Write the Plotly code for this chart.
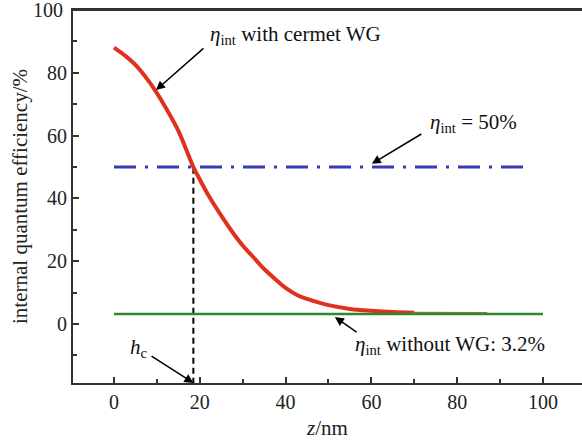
import plotly.graph_objects as go

# Data
z_cermet = [0, 3, 5, 8, 10, 12, 15, 18.5, 20, 22, 25, 28, 30, 33, 35, 38, 40, 43, 45, 48, 50, 55, 60, 65, 70]
eta_cermet = [88, 85, 82.5, 77.5, 73.5, 69, 61.5, 50, 46, 41, 34.5, 28.5, 25, 20.5, 17.5, 13.8, 11.5, 9, 8, 6.7, 6, 4.8, 4.2, 3.8, 3.6]
z_tail = [70, 87]
eta_tail = [3.5, 3.4]
z_nowg = [0, 100]
eta_nowg = [3.2, 3.2]
z_half = [0, 97]
eta_half = [50, 50]
hc = 18.5
hc_line_y = [-19, 50]
y_ticks = [0, 20, 40, 60, 80]
y_top_label = 100

FONT = "Liberation Serif"

fig = go.Figure()
fig.add_trace(go.Scatter(x=z_half, y=eta_half, mode="lines",
                         line=dict(color="#3a3ab8", width=3, dash="22px,9px,3px,9px")))
fig.add_trace(go.Scatter(x=[hc, hc], y=hc_line_y, mode="lines",
                         line=dict(color="black", width=2, dash="6px,4px")))
fig.add_trace(go.Scatter(x=z_tail, y=eta_tail, mode="lines",
                         line=dict(color="#b86a3a", width=2.5)))
fig.add_trace(go.Scatter(x=z_cermet, y=eta_cermet, mode="lines",
                         line=dict(color="#e03020", width=4, shape="spline")))
fig.add_trace(go.Scatter(x=z_nowg, y=eta_nowg, mode="lines",
                         line=dict(color="#2a8a2a", width=2.5)))

ann_font = dict(family=FONT, size=21, color="#111")
fig.update_layout(
    width=582, height=445,
    margin=dict(l=73, r=0, t=10, b=62),
    paper_bgcolor="white", plot_bgcolor="white",
    showlegend=False,
    font=dict(family=FONT, size=20, color="#222"),
    xaxis=dict(range=[-9.56, 109.1], tickvals=[0, 20, 40, 60, 80, 100],
               ticks="inside", ticklen=6, tickwidth=1.5, tickcolor="#333",
               minor=dict(tickvals=[10, 30, 50, 70, 90], ticks="inside", ticklen=4, tickwidth=1.5, tickcolor="#333"),
               showline=True, linecolor="#333", linewidth=2, mirror=True,
               showgrid=False, zeroline=False, automargin=False,
               title=dict(text="<i>z</i>/nm", font=dict(size=21), standoff=8),
               tickfont=dict(size=20)),
    yaxis=dict(range=[-18.8, 100], tickvals=y_ticks,
               ticks="inside", ticklen=6, tickwidth=1.5, tickcolor="#333",
               minor=dict(tickvals=[-10, 10, 30, 50, 70, 90], ticks="inside", ticklen=4, tickwidth=1.5, tickcolor="#333"),
               showline=True, linecolor="#333", linewidth=2, mirror=False,
               showgrid=False, zeroline=False, automargin=False,
               title=dict(text="internal quantum efficiency/%", font=dict(size=21), standoff=14),
               tickfont=dict(size=20)),
)

# top frame line
fig.add_shape(type="line", xref="paper", yref="y", x0=0, x1=1, y0=100, y1=100,
              line=dict(color="#333", width=2))
# top tick label
fig.add_annotation(x=0, y=y_top_label, xref="paper", yref="y", xanchor="right", yanchor="middle",
                   xshift=-8, showarrow=False, text=str(y_top_label),
                   font=dict(family=FONT, size=20, color="#222"))

# text labels and arrows (data coordinates)
fig.add_annotation(x=21.9, y=92, xref="x", yref="y", xanchor="left", yanchor="middle", showarrow=False,
                   text="<i>η</i><sub>int</sub> with cermet WG", font=ann_font)
fig.add_annotation(x=9.8, y=74.5, ax=21.2, ay=88.2, xref="x", yref="y", axref="x", ayref="y",
                   showarrow=True, arrowhead=2, arrowsize=1.2, arrowwidth=1.5, arrowcolor="black", text="")
fig.add_annotation(x=73.2, y=64, xref="x", yref="y", xanchor="left", yanchor="middle", showarrow=False,
                   text="<i>η</i><sub>int</sub> = 50%", font=ann_font)
fig.add_annotation(x=60.1, y=51, ax=72, ay=60.8, xref="x", yref="y", axref="x", ayref="y",
                   showarrow=True, arrowhead=2, arrowsize=1.2, arrowwidth=1.5, arrowcolor="black", text="")
fig.add_annotation(x=55.7, y=-6.7, xref="x", yref="y", xanchor="left", yanchor="middle", showarrow=False,
                   text="<i>η</i><sub>int</sub> without WG: 3.2%", font=ann_font)
fig.add_annotation(x=51.5, y=2.2, ax=56.9, ay=-2.9, xref="x", yref="y", axref="x", ayref="y",
                   showarrow=True, arrowhead=2, arrowsize=1.2, arrowwidth=1.5, arrowcolor="black", text="")
fig.add_annotation(x=3.3, y=-7.6, xref="x", yref="y", xanchor="left", yanchor="middle", showarrow=False,
                   text="<i>h</i><sub>c</sub>", font=ann_font)
fig.add_annotation(x=hc, y=-18.8, ax=8.4, ay=-9.9, xref="x", yref="y", axref="x", ayref="y",
                   showarrow=True, arrowhead=2, arrowsize=1.2, arrowwidth=1.5, arrowcolor="black", text="")

fig.write_html("out.html", config={"displayModeBar": False},
               post_script="document.body.style.margin='0';document.body.style.overflow='hidden';")
